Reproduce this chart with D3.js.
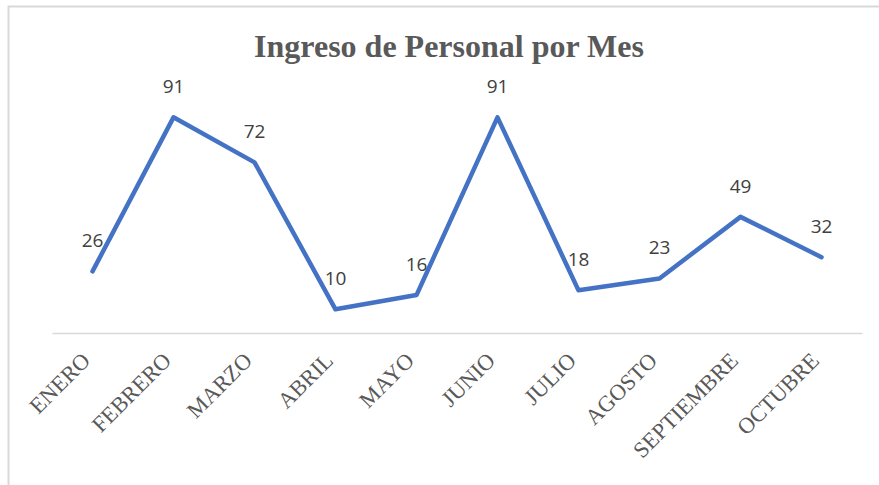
<!DOCTYPE html>
<html>
<head>
<meta charset="utf-8">
<script src="https://cdn.jsdelivr.net/npm/d3@7"></script>
<style>
  body { margin: 0; background: #fff; }
  svg { display: block; }
</style>
</head>
<body>
<script>
const months = ['ENERO', 'FEBRERO', 'MARZO', 'ABRIL', 'MAYO', 'JUNIO', 'JULIO', 'AGOSTO', 'SEPTIEMBRE', 'OCTUBRE'];
const ingresos = [26, 91, 72, 10, 16, 91, 18, 23, 49, 32];
const title = 'Ingreso de Personal por Mes';

const width = 879, height = 485;

const svg = d3.select('body').append('svg')
    .attr('width', width)
    .attr('height', height);

// chart frame (cut off at right and bottom)
svg.append('path')
    .attr('d', `M8.5,${height} V6.5 H${width}`)
    .attr('fill', 'none')
    .attr('stroke', '#d9d9d9')
    .attr('stroke-width', 2);

const x = d3.scaleBand()
    .domain(months)
    .range([52, 862]);

const y = d3.scaleLinear()
    .domain([0, 100])
    .range([333, 96]);

svg.append('text')
    .attr('x', 449)
    .attr('y', 57)
    .attr('text-anchor', 'middle')
    .attr('font-family', '"Liberation Serif", serif')
    .attr('font-weight', 'bold')
    .attr('font-size', '32px')
    .attr('fill', '#595959')
    .text(title);

// x axis
const xAxis = svg.append('g')
    .attr('transform', `translate(0,${y(0)})`)
    .call(d3.axisBottom(x).tickSize(0).tickPadding(0));

xAxis.select('.domain')
    .attr('stroke', '#d9d9d9')
    .attr('stroke-width', 1.5);

xAxis.selectAll('text')
    .attr('font-family', '"Liberation Serif", serif')
    .attr('font-size', '22.5px')
    .attr('fill', '#595959')
    .attr('text-anchor', 'end')
    .attr('dy', null)
    .attr('transform', 'translate(-1,29) rotate(-45)');

const line = d3.line()
    .x((d, i) => x(months[i]) + x.bandwidth() / 2)
    .y(d => y(d));

svg.append('path')
    .datum(ingresos)
    .attr('d', line)
    .attr('fill', 'none')
    .attr('stroke', '#4472c4')
    .attr('stroke-width', 4.5)
    .attr('stroke-linejoin', 'round')
    .attr('stroke-linecap', 'round');

svg.append('g')
    .selectAll('text')
    .data(ingresos)
    .join('text')
        .attr('x', (d, i) => x(months[i]) + x.bandwidth() / 2)
        .attr('y', d => y(d) - 24)
        .attr('text-anchor', 'middle')
        .attr('font-family', '"Open Sans", sans-serif')
        .attr('font-size', '19px')
        .attr('fill', '#404040')
        .text(d => d);
</script>
</body>
</html>
